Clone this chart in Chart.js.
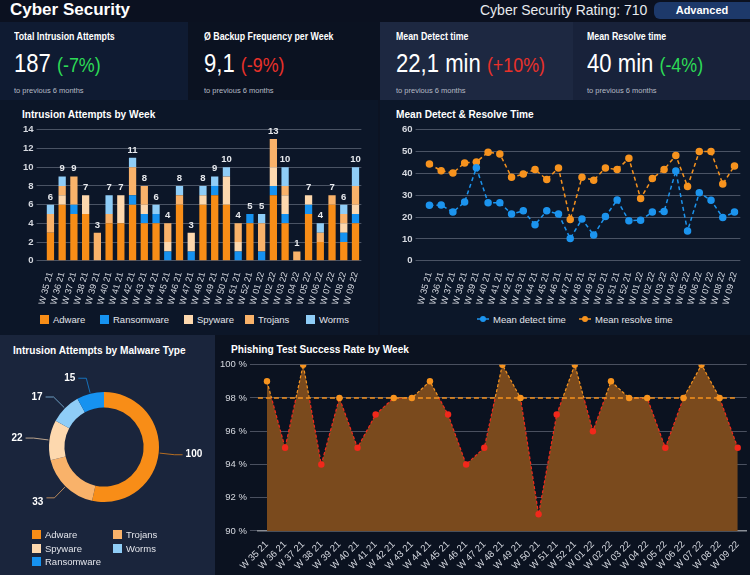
<!DOCTYPE html>
<html>
<head>
<meta charset="utf-8">
<script src="https://cdn.jsdelivr.net/npm/chart.js@4.4.1/dist/chart.umd.min.js"></script>
<style>
  body { margin: 0; width: 750px; height: 575px; background: #0c1323; overflow: hidden;
         font-family: "Liberation Sans", Arial, sans-serif; color: #fff; position: relative; }
  .box { position: absolute; white-space: nowrap; }
  .nar { transform-origin: 0 0; }
  .green { color: #2ddb56; font-size: 21px; }
  .red { color: #e8312a; font-size: 21px; }
  .ptitle { position: absolute; font-weight: bold; font-size: 11px; color: #fff; white-space: nowrap;
            transform: scaleX(0.92); transform-origin: 0 0; }
  .chartbox { position: absolute; }
  .leg { position: absolute; font-size: 9.5px; color: #e2e4ea; }
  .leg div { position: absolute; white-space: nowrap; line-height: 11px; }
  .leg span { display: inline-block; width: 9px; height: 9px; margin-right: 4px; vertical-align: -1px; }
  .leg canvas { vertical-align: 0px; margin-right: 4px; }
</style>
</head>
<body>
<!-- header -->
<div class="box" style="left:0;top:0;width:750px;height:22px;background:#0b1120;"></div>
<div class="box" style="left:10px;top:0px;font-weight:bold;font-size:17px;">Cyber Security</div>
<div class="box" style="left:480px;top:2px;font-size:14px;color:#e8eaee;">Cyber Security Rating: 710</div>
<div class="box" style="left:654px;top:2px;width:96px;height:17px;background:#1d396a;border-radius:6px 0 0 6px;font-weight:bold;font-size:11px;text-align:center;line-height:17px;">Advanced</div>

<!-- kpi cards -->
<div class="box" style="left:0;top:22px;height:78px;width:188px;background:#0f1b32;"></div>
<div class="box" style="left:188px;top:22px;height:78px;width:192px;background:#0b1221;"></div>
<div class="box" style="left:380px;top:22px;height:78px;width:193px;background:#1d2841;"></div>
<div class="box" style="left:573px;top:22px;height:78px;width:177px;background:#18223a;"></div>
<div id="kpis"></div>

<!-- panels -->
<div class="box" style="left:0;top:100px;width:378px;height:235px;background:#0c1628;"></div>
<div class="box" style="left:380px;top:100px;width:370px;height:235px;background:#0c1729;"></div>
<div class="box" style="left:0;top:335px;width:215px;height:240px;background:#1a253c;"></div>
<div class="box" style="left:215px;top:335px;width:535px;height:240px;background:#0b1220;"></div>

<div class="ptitle" style="left:22px;top:108px;">Intrusion Attempts by Week</div>
<div class="ptitle" style="left:396px;top:108px;">Mean Detect &amp; Resolve Time</div>
<div class="ptitle" style="left:13px;top:344px;">Intrusion Attempts by Malware Type</div>
<div class="ptitle" style="left:231px;top:343px;">Phishing Test Success Rate by Week</div>

<div class="chartbox" style="left:20px;top:121px;width:348px;height:187px;"><canvas id="barChart"></canvas></div>
<div class="leg" id="barLegend" style="left:0;top:314px;width:378px;height:14px;"></div>
<div class="chartbox" style="left:399px;top:121px;width:348px;height:187px;"><canvas id="lineChart"></canvas></div>
<div class="leg" id="lineLegend" style="left:380px;top:314px;width:370px;height:14px;"></div>
<div class="chartbox" style="left:0;top:362px;width:214px;height:170px;"><canvas id="donutChart"></canvas></div>
<div class="leg" id="donutLegend" style="left:32px;top:529px;width:180px;height:40px;"></div>
<div class="chartbox" style="left:217px;top:356px;width:533px;height:219px;"><canvas id="phishChart"></canvas></div>

<script>
// data
let weeks = ["W 35 21","W 36 21","W 37 21","W 38 21","W 39 21","W 40 21","W 41 21","W 42 21","W 43 21",
             "W 44 21","W 45 21","W 46 21","W 47 21","W 48 21","W 49 21","W 50 21","W 51 21","W 52 21",
             "W 01 22","W 02 22","W 03 22","W 04 22","W 05 22","W 06 22","W 07 22","W 08 22","W 09 22"];

let malwareTypes = ["Adware", "Ransomware", "Spyware", "Trojans", "Worms"];
let adware     = [3,6,5,5,0,4,4,6,4,4,0,6,0,6,7,6,0,4,0,7,4,0,5,2,6,2,4];
let ransomware = [0,0,1,0,0,0,0,1,1,1,1,0,1,0,1,0,1,1,1,1,1,0,1,0,0,1,1];
let spyware    = [0,1,0,2,0,0,3,0,1,0,1,0,2,1,0,3,1,0,0,2,2,0,1,0,0,1,1];
let trojans    = [2,1,3,0,3,1,0,3,2,0,2,1,0,0,0,0,2,0,3,3,1,1,0,1,1,1,2];
let worms      = [1,1,0,0,0,2,0,1,0,1,0,1,0,1,1,1,0,0,1,0,2,0,0,1,0,1,2];

let detectTime  = [25.4,25.5,22.3,26.9,42.6,26.6,26.6,21.4,22.9,16.5,22.9,21.4,10.2,19.1,11.8,20.3,27.8,18.3,18.6,22.3,22.6,41.1,13.7,31.1,27.7,19.8,22.3];
let resolveTime = [44.3,41.2,40.2,44.8,45.2,49.7,48.9,38.2,39.7,41.8,37.2,42.5,18.9,38.3,36.9,42.5,41.8,46.9,28.5,37.7,41.8,48.2,34.0,50.0,50.0,35.2,43.4];

let donutLabels = ["Adware", "Trojans", "Spyware", "Worms", "Ransomware"];
let donutValues = [100, 33, 22, 17, 15];

let phishRate = [99,95,100,94,98,95,97,98,98,99,97,94,95,100,98,91,97,100,96,99,98,98,95,98,100,98,95];
let phishTarget = 98;

let kpiTitles = ["Total Intrusion Attempts", "\u00d8 Backup Frequency per Week", "Mean Detect time", "Mean Resolve time"];
let kpiValues = ["187", "9,1", "22,1 min", "40 min"];
let kpiChanges = ["(-7%)", "(-9%)", "(+10%)", "(-4%)"];
let kpiGood = [true, false, false, true];

// colours
let cAdware = "#f88d17", cRansom = "#1692f0", cSpy = "#fdd8ae", cTroj = "#f9b26a", cWorms = "#8fcdf7";
let malwareColors = [cAdware, cRansom, cSpy, cTroj, cWorms];
let donutColors = [cAdware, cTroj, cSpy, cWorms, cRansom];
let orange = "#f7931e", red = "#f2281b", blue = "#1c94ee";

// kpi cards
let kpiLeft = [0, 190, 382, 573];
let kpiHtml = "";
for (let i = 0; i < kpiTitles.length; i++) {
    let x = kpiLeft[i] + 14;
    kpiHtml += '<div class="box nar" style="left:' + x + 'px;top:30px;font-weight:bold;font-size:11px;transform:scaleX(0.8);">' + kpiTitles[i] + '</div>';
    kpiHtml += '<div class="box nar" style="left:' + x + 'px;top:48px;font-size:26px;transform:scaleX(0.85);">' + kpiValues[i] +
               ' <span class="' + (kpiGood[i] ? 'green' : 'red') + '">' + kpiChanges[i] + '</span></div>';
    kpiHtml += '<div class="box" style="left:' + x + 'px;top:86px;font-size:7.5px;color:#b5bac4;">to previous 6 months</div>';
}
document.getElementById("kpis").innerHTML = kpiHtml;

// legends
let barLegX = [40, 100, 184, 245, 306];
let legHtml = "";
for (let i = 0; i < malwareTypes.length; i++) {
    legHtml += '<div style="left:' + barLegX[i] + 'px;top:0;"><span style="background:' +
               malwareColors[i] + '"></span>' + malwareTypes[i] + '</div>';
}
document.getElementById("barLegend").innerHTML = legHtml;

legHtml = "";
for (let i = 0; i < donutLabels.length; i++) {
    let col = i % 2, row = Math.floor(i / 2);
    legHtml += '<div style="left:' + (col * 81) + 'px;top:' + (row * 13.5) + 'px;"><span style="background:' +
               donutColors[i] + '"></span>' + donutLabels[i] + '</div>';
}
document.getElementById("donutLegend").innerHTML = legHtml;

// line legend marker: short line with dot
function lineMarker(color) {
    let c = document.createElement("canvas");
    c.width = 12; c.height = 8;
    let g = c.getContext("2d");
    g.strokeStyle = color; g.lineWidth = 1.5;
    g.beginPath(); g.moveTo(0, 4); g.lineTo(12, 4); g.stroke();
    g.fillStyle = color; g.beginPath(); g.arc(6, 4, 3, 0, Math.PI * 2); g.fill();
    return c;
}
let lineLeg = document.getElementById("lineLegend");
[["Mean detect time", blue, 97], ["Mean resolve time", orange, 199]].forEach(item => {
    let d = document.createElement("div");
    d.style.left = item[2] + "px"; d.style.top = "0px";
    d.appendChild(lineMarker(item[1]));
    d.appendChild(document.createTextNode(item[0]));
    lineLeg.appendChild(d);
});

Chart.defaults.font.family = '"Liberation Sans", Arial, sans-serif';
Chart.defaults.color = "#d6d9e0";
Chart.defaults.animation = false;
let gridColor = "rgba(150,158,172,0.45)";

// totals above bars
let totalsPlugin = {
    id: "totals",
    afterDatasetsDraw(chart) {
        let ctx = chart.ctx;
        let y = chart.scales.y;
        let meta = chart.getDatasetMeta(0);
        ctx.save();
        ctx.font = "bold 9.5px " + Chart.defaults.font.family;
        ctx.fillStyle = "#e8eaee";
        ctx.textAlign = "center";
        ctx.textBaseline = "bottom";
        for (let i = 0; i < weeks.length; i++) {
            let total = 0;
            chart.data.datasets.forEach(ds => total += ds.data[i]);
            ctx.fillText(total, meta.data[i].x, y.getPixelForValue(total) - 3);
        }
        ctx.restore();
    }
};

let barDatasets = [adware, ransomware, spyware, trojans, worms].map((d, i) => ({
    label: malwareTypes[i], data: d, backgroundColor: malwareColors[i],
    barPercentage: 0.62, categoryPercentage: 1
}));

new Chart(document.getElementById("barChart"), {
    type: "bar",
    data: { labels: weeks, datasets: barDatasets },
    options: {
        responsive: true, maintainAspectRatio: false,
        layout: { padding: { top: 4, right: 4 } },
        plugins: { legend: { display: false }, tooltip: { enabled: false } },
        scales: {
            x: { stacked: true, grid: { display: false }, border: { display: false },
                 ticks: { autoSkip: false, minRotation: 75, maxRotation: 75, font: { size: 9 }, padding: 2 } },
            y: { stacked: true, min: 0, max: 14, ticks: { stepSize: 2, font: { size: 9.5, weight: "bold" } },
                 grid: { color: gridColor }, border: { display: false } }
        }
    },
    plugins: [totalsPlugin]
});

new Chart(document.getElementById("lineChart"), {
    type: "line",
    data: {
        labels: weeks,
        datasets: [
            { label: "Mean detect time", data: detectTime, borderColor: blue, backgroundColor: blue,
              borderWidth: 1.5, borderDash: [4, 3], pointRadius: 3, pointHoverRadius: 3 },
            { label: "Mean resolve time", data: resolveTime, borderColor: orange, backgroundColor: orange,
              borderWidth: 1.5, borderDash: [4, 3], pointRadius: 3, pointHoverRadius: 3 }
        ]
    },
    options: {
        responsive: true, maintainAspectRatio: false,
        layout: { padding: { top: 4, right: 2 } },
        elements: { line: { tension: 0 } },
        plugins: { legend: { display: false }, tooltip: { enabled: false } },
        scales: {
            x: { offset: true, grid: { display: false }, border: { display: false },
                 ticks: { autoSkip: false, minRotation: 75, maxRotation: 75, font: { size: 9 }, padding: 2 } },
            y: { min: 0, max: 60, ticks: { stepSize: 10, font: { size: 9.5, weight: "bold" } },
                 grid: { color: gridColor }, border: { display: false } }
        }
    }
});

// donut leader lines and labels
let leaderPlugin = {
    id: "leaders",
    afterDatasetsDraw(chart) {
        let ctx = chart.ctx;
        let meta = chart.getDatasetMeta(0);
        ctx.save();
        ctx.font = "bold 10px " + Chart.defaults.font.family;
        ctx.fillStyle = "#ffffff";
        ctx.textBaseline = "middle";
        meta.data.forEach((arc, i) => {
            let a = (arc.startAngle + arc.endAngle) / 2;
            let r = arc.outerRadius;
            let x1 = arc.x + Math.cos(a) * (r + 1), y1 = arc.y + Math.sin(a) * (r + 1);
            let x2 = arc.x + Math.cos(a) * (r + 16), y2 = arc.y + Math.sin(a) * (r + 16);
            let right = Math.cos(a) >= 0;
            let x3 = x2 + (right ? 8 : -8);
            ctx.strokeStyle = donutColors[i];
            ctx.globalAlpha = 0.7;
            ctx.lineWidth = 1;
            ctx.beginPath(); ctx.moveTo(x1, y1); ctx.lineTo(x2, y2); ctx.lineTo(x3, y2); ctx.stroke();
            ctx.globalAlpha = 1;
            ctx.textAlign = right ? "left" : "right";
            ctx.fillText(donutValues[i], x3 + (right ? 3 : -3), y2 + (Math.sin(a) > 0.5 ? 4 : 0));
        });
        ctx.restore();
    }
};

new Chart(document.getElementById("donutChart"), {
    type: "doughnut",
    data: { labels: donutLabels, datasets: [{ data: donutValues, backgroundColor: donutColors, borderWidth: 0 }] },
    options: {
        responsive: true, maintainAspectRatio: false, cutout: "72%",
        layout: { padding: { top: 30, bottom: 30, left: 49, right: 55 } },
        plugins: { legend: { display: false }, tooltip: { enabled: false } }
    },
    plugins: [leaderPlugin]
});

// phishing chart: line orange above target, red below
function splitColor(ctx) {
    let chart = ctx.chart;
    let area = chart.chartArea;
    if (!area) return orange;
    let yPix = chart.scales.y.getPixelForValue(phishTarget);
    let stop = Math.min(1, Math.max(0, (yPix - area.top) / (area.bottom - area.top)));
    let g = chart.ctx.createLinearGradient(0, area.top, 0, area.bottom);
    g.addColorStop(0, orange); g.addColorStop(stop, orange);
    g.addColorStop(stop, red); g.addColorStop(1, red);
    return g;
}

let targetPlugin = {
    id: "target",
    afterDatasetsDraw(chart) {
        let ctx = chart.ctx, area = chart.chartArea;
        let y = chart.scales.y.getPixelForValue(phishTarget);
        let meta = chart.getDatasetMeta(0);
        ctx.save();
        ctx.strokeStyle = orange; ctx.lineWidth = 1.5; ctx.setLineDash([5, 3]);
        ctx.beginPath(); ctx.moveTo(area.left, y); ctx.lineTo(meta.data[meta.data.length - 1].x, y); ctx.stroke();
        ctx.restore();
    }
};

new Chart(document.getElementById("phishChart"), {
    type: "line",
    data: {
        labels: weeks,
        datasets: [{
            data: phishRate, fill: "start", backgroundColor: "#7a4a1d",
            borderColor: splitColor, borderWidth: 1.2, borderDash: [3, 2], tension: 0,
            pointRadius: 3.2, pointHoverRadius: 3.2, pointBorderWidth: 0,
            pointBackgroundColor: ctx => ctx.raw >= phishTarget ? orange : red
        }]
    },
    options: {
        responsive: true, maintainAspectRatio: false,
        layout: { padding: { top: 4, right: 2, bottom: 3 } },
        plugins: { legend: { display: false }, tooltip: { enabled: false } },
        scales: {
            x: { offset: true, grid: { display: false }, border: { color: "#8a8e96", width: 1.5 },
                 ticks: { autoSkip: false, minRotation: 45, maxRotation: 45, font: { size: 9.5 }, padding: 0 } },
            y: { min: 90, max: 100, ticks: { stepSize: 2, font: { size: 9.5 }, callback: v => v + " %" },
                 grid: { color: gridColor }, border: { display: false } }
        }
    },
    plugins: [targetPlugin]
});
</script>
</body>
</html>
